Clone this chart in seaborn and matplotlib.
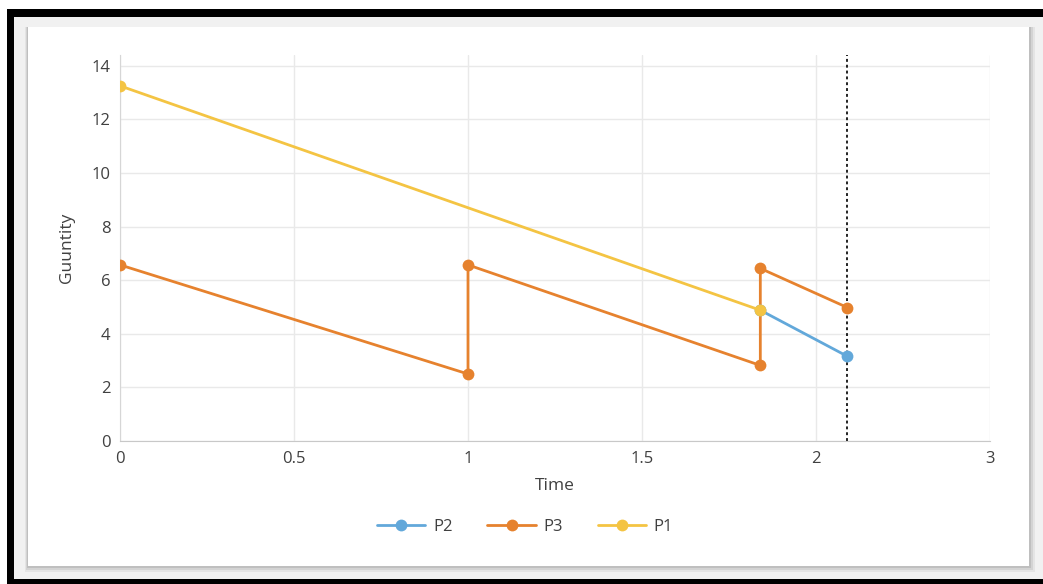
import pandas as pd
import matplotlib.pyplot as plt
import seaborn as sns
from matplotlib.patches import Rectangle
from matplotlib.lines import Line2D

# ---- data ----
p1_time = [0, 1.84]
p1_qty = [13.25, 4.88]
p2_time = [1.84, 2.09]
p2_qty = [4.88, 3.16]
p3_time = [0, 1, 1, 1.84, 1.84, 2.09]
p3_qty = [6.57, 2.5, 6.57, 2.82, 6.44, 4.98]
cutoff_time = 2.09

x_ticks = [0, 0.5, 1, 1.5, 2, 2.5]
x_tick_labels = ["0", "0.5", "1", "1.5", "2", "3"]
y_ticks = [0, 2, 4, 6, 8, 10, 12, 14]

colors = {"P1": "#F4C443", "P2": "#62A8DA", "P3": "#E6822E"}

sns.set_style("white")
plt.rcParams["font.family"] = ["Open Sans", "DejaVu Sans"]

W, H = 1043, 584
fig = plt.figure(figsize=(W / 100, H / 100), dpi=100)


def px_rect(x0, y0, x1, y1, color, z, alpha=1.0):
    # pixel box measured from the top-left corner
    fig.add_artist(Rectangle((x0 / W, 1 - y1 / H), (x1 - x0) / W, (y1 - y0) / H,
                             transform=fig.transFigure, facecolor=color,
                             edgecolor="none", zorder=z, alpha=alpha))


# screenshot frame, grey backdrop and white chart card with a soft shadow
px_rect(7, 9, W, H, "black", -10)
px_rect(14, 17, W, 579, "#f1f1f1", -9)
for off, a in [(6, 0.05), (4, 0.07), (2, 0.09)]:
    px_rect(28 - off / 2, 27, 1029 + off, 566 + off, "#000000", -8, alpha=a)
px_rect(28, 27, 1029, 566, "white", -7)

ax = fig.add_axes([120 / W, 1 - 441 / H, 870 / W, 386 / H])
ax.patch.set_alpha(0)

series = [("P3", p3_time, p3_qty), ("P2", p2_time, p2_qty), ("P1", p1_time, p1_qty)]
for name, t, q in series:
    df = pd.DataFrame({"Time": t, "Quantity": q})
    sns.lineplot(data=df, x="Time", y="Quantity", sort=False, estimator=None,
                 color=colors[name], linewidth=2.0, marker="o", markersize=8.5,
                 markeredgewidth=0, ax=ax, zorder=3)

ax.axvline(cutoff_time, color="#222222", linestyle=(0, (1.5, 1.5)), linewidth=1.4, zorder=2)

ax.set_xlim(0, 2.5)
ax.set_ylim(0, 14.4)
ax.set_xticks(x_ticks)
ax.set_xticklabels(x_tick_labels)
ax.set_yticks(y_ticks)
ax.grid(True, color="#e9e9e9", linewidth=1.0)
ax.set_axisbelow(True)
ax.tick_params(length=0, labelsize=12, labelcolor="#404040", pad=7)
for s in ["top", "right"]:
    ax.spines[s].set_visible(False)
ax.spines["left"].set_color("#d6d6d6")
ax.spines["bottom"].set_color("#c8c8c8")
ax.set_xlabel("Time", fontsize=12.5, color="#404040", labelpad=8)
ax.set_ylabel("Guuntity", fontsize=12.5, color="#404040", labelpad=12)

handles = [Line2D([], [], color=colors[n], linewidth=2.0, marker="o", markersize=8.5,
                  markeredgewidth=0) for n in ["P2", "P3", "P1"]]
fig.legend(handles, ["P2", "P3", "P1"], loc="center", bbox_to_anchor=(525 / W, 1 - 527 / H),
           ncol=3, frameon=False, fontsize=12, handlelength=2.9, handletextpad=0.45,
           columnspacing=2.1, labelcolor="#404040")

fig.savefig("out.png", dpi=100)
